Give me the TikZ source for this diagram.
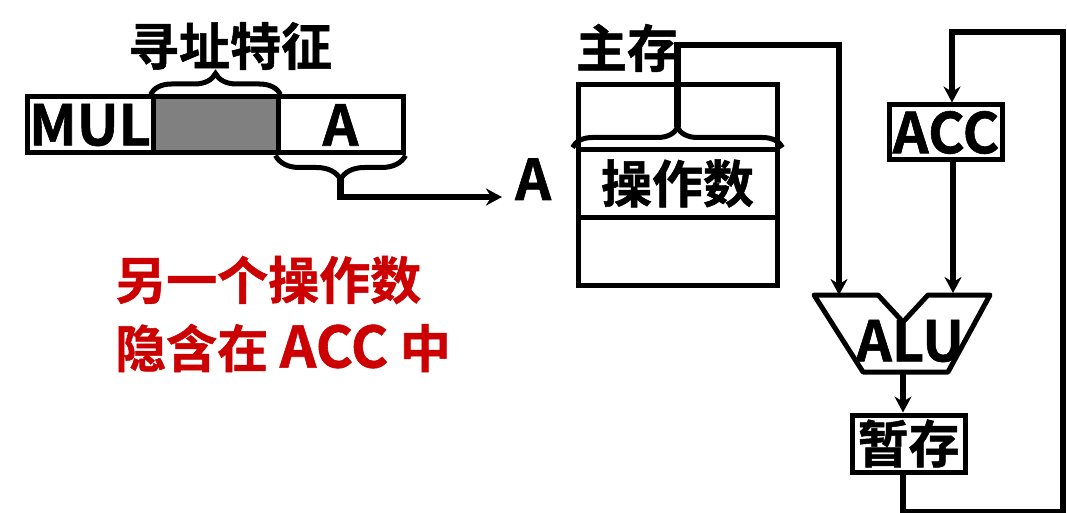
\documentclass[tikz,border=0pt]{standalone}
\usepackage{fontspec}
\newfontfamily\cjk{Noto Sans CJK SC Bold}[BoldFont={Noto Sans CJK SC Bold}, BoldFeatures={FakeBold=1}]
\usetikzlibrary{arrows.meta,calc,decorations.pathreplacing}
\definecolor{hintred}{RGB}{204,0,0}

\begin{document}
\begin{tikzpicture}[x=1pt,y=-1pt,
    field/.style={draw, line width=5pt, inner sep=0pt, font=\cjk\bfseries\fontsize{56}{56}\selectfont},
    lbl/.style={inner sep=0pt, font=\cjk\bfseries\fontsize{51}{51}\selectfont},
    arr/.style={line width=6.5pt, -{Stealth[length=16pt,width=17pt]}},
    brc/.style={decorate, decoration={brace, amplitude=#1}, line width=5pt}]
    \useasboundingbox (0,0) rectangle (1067,513);

    % Instruction word
    \node[field, minimum width=126pt, minimum height=56pt] (mul) at (90,125) {MUL};
    \node[field, fill=gray, minimum width=125pt, minimum height=56pt] (feat) at (215.5,125) {};
    \node[field, minimum width=125pt, minimum height=56pt] (addr) at (340.5,125) {A};
    \node[lbl] (featLbl) at (230,46) {寻址特征};

    % Braces
    \draw[brc=21pt] (feat.north west) -- (feat.north east);
    \coordinate (tipF) at ($(feat.north)+(0,-21)$);
    \draw[brc=24pt] (addr.south east) -- (addr.south west);
    \coordinate (tipA) at ($(addr.south)+(0,24)$);

    % Address A
    \node[lbl, anchor=base west, font=\cjk\bfseries\fontsize{56}{56}\selectfont] (addrA) at (515,200) {A};
    \draw[arr] (tipA) |- ([xshift=-13pt,yshift=3pt]addrA.base west);

    % Main memory
    \node[lbl] (memLbl) at (627,48) {主存};
    \node[field, minimum width=199pt, minimum height=65pt] (memTop) at (677.5,117.5) {};
    \node[field, lbl, draw, line width=5pt, minimum width=199pt, minimum height=67pt] (opnd) at (677.5,183.5) {操作数};
    \node[field, minimum width=199pt, minimum height=68pt] (memBot) at (677.5,251) {};
    \draw[brc=20pt] ([xshift=-3pt]opnd.north west) -- ([xshift=3pt]opnd.north east);
    \coordinate (tipM) at ($(opnd.north)+(0,-20)$);

    % ALU
    \coordinate (aluL) at (839,295);
    \coordinate (aluR) at (953,293);
    \coordinate (aluO) at (903,372);
    \draw[line width=5pt, line join=round] (814,295) -- (878,295) -- (903,322) -- (928,295)
        -- (990,295) -- (948,372) -- (863,372) -- cycle;
    \node[lbl, font=\cjk\bfseries\fontsize{56}{56}\selectfont] (alu) at (910,341) {ALU};

    % Registers
    \node[field, minimum width=113pt, minimum height=55pt] (acc) at (946,132.5) {ACC};
    \node[field, lbl, draw, line width=5pt, minimum width=113pt, minimum height=57pt] (tmp) at (908.5,443.5) {暂存};
    \coordinate (topL) at (952,32);
    \coordinate (loopR) at (1063,32);

    % Data paths
    \draw[arr] (tipM) |- (839,45) -| (aluL);
    \draw[arr] (acc.south -| aluR) -- (aluR);
    \draw[arr] (aluO) -- (aluO |- tmp.north);
    \draw[arr] (aluO |- tmp.south) -- ++(0,38) -| (loopR) -| (acc.north -| topL);

    % Note
    \node[lbl, hintred, anchor=west] (hint1) at (115,280) {另一个操作数};
    \node[lbl, hintred, anchor=west] (hint2) at (115,348) {隐含在 {\fontsize{57}{57}\selectfont ACC} 中};
\end{tikzpicture}
\end{document}
